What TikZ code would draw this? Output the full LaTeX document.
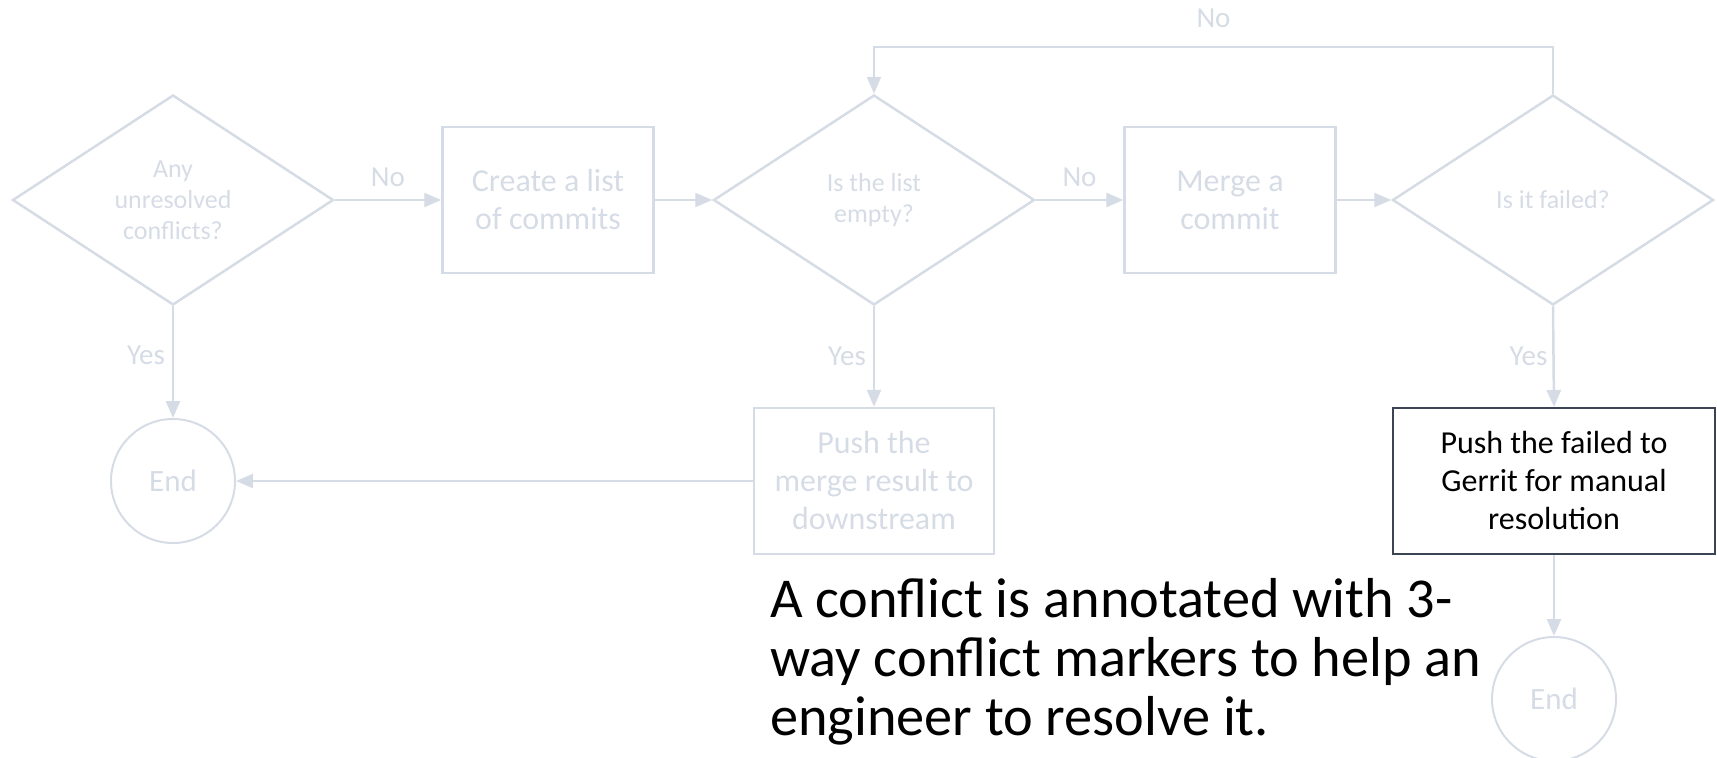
\documentclass[tikz,border=0pt]{standalone}
\usepackage{fontspec}
\setmainfont{Carlito}
\usetikzlibrary{shapes.geometric,arrows.meta}
\definecolor{flowgray}{HTML}{D6DCE5}
\definecolor{slate}{HTML}{3B4452}

\begin{document}
\begin{tikzpicture}[
  line/.style={draw=flowgray, line width=2.5pt},
  arr/.style={line, -{Triangle[length=17pt,width=14pt]}},
  decision/.style={diamond, draw=flowgray, line width=2.5pt, minimum width=321pt,
    minimum height=210pt, inner sep=0pt, aspect=1.53, align=center, text=flowgray,
    font=\fontsize{26}{31}\selectfont},
  stepbox/.style={rectangle, draw=flowgray, line width=2.5pt, minimum width=211pt,
    minimum height=146pt, align=center, text=flowgray, font=\fontsize{32}{38}\selectfont},
  endcirc/.style={circle, draw=flowgray, line width=2pt, minimum size=124pt,
    inner sep=0pt, text=flowgray, font=\fontsize{31}{37}\selectfont},
  lbl/.style={text=flowgray, font=\fontsize{29}{35}\selectfont, inner sep=0pt}
]
\useasboundingbox (0,0) rectangle (1717pt,-758pt);

% decisions and steps of the merge loop
\node[decision] (d1) at (173pt,-200pt) {Any\\unresolved\\conflicts?};
\node[stepbox] (b1) at (548pt,-200pt) {Create a list\\of commits};
\node[decision] (d2) at (874pt,-200pt) {Is the list\\empty?};
\node[stepbox] (b2) at (1230pt,-200pt) {Merge a\\commit};
\node[decision] (d3) at (1553pt,-200pt) {Is it failed?};

% terminal states and outcomes
\node[endcirc] (e1) at (173pt,-481pt) {End};
\node[stepbox, minimum width=240pt] (b3) at (874pt,-481pt) {Push the\\merge result to\\downstream};
\node[stepbox, draw=slate, line width=2pt, text=black, minimum width=322pt]
  (b4) at (1554pt,-481pt) {Push the failed to\\Gerrit for manual\\resolution};
\node[endcirc] (e2) at (1554pt,-699pt) {End};

% connectors
\draw[arr] (d1.east) -- node[lbl, yshift=23pt] {No} (b1.west);
\draw[arr] (b1.east) -- (d2.west);
\draw[arr] (d2.east) -- node[lbl, yshift=23pt] {No} (b2.west);
\draw[arr] (b2.east) -- (d3.west);
\draw[arr] (d3.north) -- ++(0,47pt) -| node[lbl, pos=0.25, yshift=28pt] {No} (d2.north);
\draw[arr] (d1.south) -- node[lbl, pos=0.44, xshift=-27pt] {Yes} (e1.north);
\draw[arr] (d2.south) -- node[lbl, xshift=-27pt] {Yes} (b3.north);
\draw[arr] (d3.south) -- node[lbl, xshift=-25pt] {Yes} (b4.north);
\draw[arr] (b3.west) -- (e1.east);
\draw[arr] (b4.south) -- (e2.north);

% explanatory note
\node[anchor=base west, inner sep=0pt, align=left, font=\fontsize{56.3}{59}\selectfont]
  (note) at (770pt,-735pt) {A conflict is annotated with 3-\\way conflict markers to help an\\engineer to resolve it.};
\end{tikzpicture}
\end{document}
